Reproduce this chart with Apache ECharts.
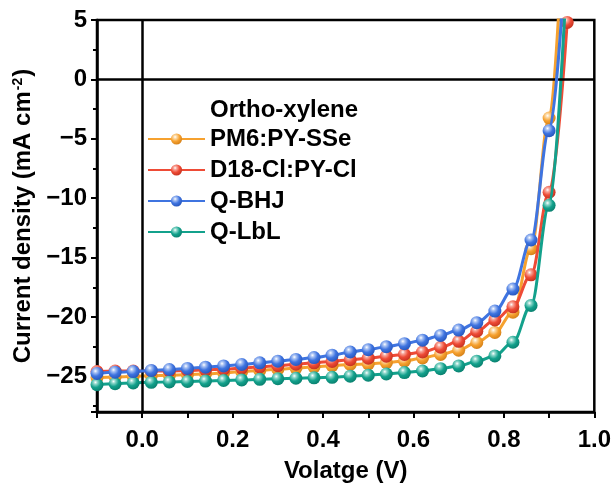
<!DOCTYPE html>
<html>
<head>
<meta charset="utf-8">
<script src="https://cdn.jsdelivr.net/npm/echarts@6/dist/echarts.min.js"></script>
<style>
  html, body { margin: 0; padding: 0; background: #fff; }
  #chart { width: 614px; height: 488px; }
</style>
</head>
<body>
<div id="chart"></div>
<script>
// J-V curves
const volt = [-0.10, -0.06, -0.02, 0.02, 0.06, 0.10, 0.14, 0.18, 0.22, 0.26, 0.30, 0.34, 0.38, 0.42,
  0.46, 0.50, 0.54, 0.58, 0.62, 0.66, 0.70, 0.74, 0.78, 0.82, 0.86, 0.90, 0.94]

const pm6 = [-25.1, -25.05, -25.0, -24.95, -24.9, -24.85, -24.8, -24.7, -24.6, -24.5, -24.4, -24.3, -24.2,
  -24.1, -24.0, -23.95, -23.85, -23.7, -23.45, -23.15, -22.8, -22.15, -21.3, -19.6, -14.25, -3.25, 20]
const d18 = [-24.6, -24.55, -24.55, -24.55, -24.55, -24.5, -24.45, -24.4, -24.3, -24.2, -24.1, -23.98, -23.86,
  -23.74, -23.6, -23.47, -23.3, -23.15, -22.95, -22.55, -22.05, -21.2, -20.25, -19.15, -16.45, -9.5, 4.8]
const qbhj = [-24.75, -24.65, -24.6, -24.5, -24.42, -24.33, -24.23, -24.12, -24.0, -23.86, -23.72, -23.57, -23.42,
  -23.22, -22.95, -22.75, -22.5, -22.25, -21.95, -21.55, -21.1, -20.48, -19.5, -17.65, -13.52, -4.32, 12.5]
const qlbl = [-25.7, -25.62, -25.55, -25.5, -25.47, -25.43, -25.4, -25.35, -25.3, -25.25, -25.2, -25.16, -25.12,
  -25.08, -24.98, -24.9, -24.8, -24.68, -24.55, -24.35, -24.12, -23.72, -23.28, -22.13, -19.03, -10.6, 9.5]

const names = ['PM6:PY-SSe', 'D18-Cl:PY-Cl', 'Q-BHJ', 'Q-LbL']
const colors = ['#f6a12f', '#ee4b36', '#3f74e0', '#13a18c']
const lights = ['#fcd9a4', '#f8a89c', '#a9c2f3', '#8fd8cc']
const darks = ['#c97510', '#b82a18', '#1f4cb0', '#067565']
const curves = [pm6, d18, qbhj, qlbl]
const zs = [2, 3, 5, 4]

const FONT = 'Liberation Sans, Arial, sans-serif'

const sphere = k => ({
  type: 'radial', x: 0.38, y: 0.32, r: 0.8,
  colorStops: [
    { offset: 0, color: '#ffffff' },
    { offset: 0.18, color: lights[k] },
    { offset: 0.5, color: colors[k] },
    { offset: 1, color: darks[k] }
  ]
})

const series = curves.map((ys, k) => ({
  name: names[k],
  type: 'line',
  data: volt.map((v, i) => [v, ys[i]]),
  smooth: 0.35,
  smoothMonotone: 'x',
  symbol: 'circle',
  symbolSize: 13,
  showSymbol: true,
  clip: true,
  z: zs[k],
  lineStyle: { color: colors[k], width: 3 },
  itemStyle: { color: sphere(k), borderWidth: 0 },
  emphasis: { disabled: true }
}))

// zero lines
series[2].markLine = {
  silent: true,
  symbol: 'none',
  label: { show: false },
  lineStyle: { color: '#000', width: 2.5, type: 'solid' },
  data: [{ yAxis: 0 }, { xAxis: 0 }]
}

const chart = echarts.init(document.getElementById('chart'))
chart.setOption({
  backgroundColor: '#fff',
  animation: false,
  title: {
    text: 'Ortho-xylene',
    left: 205, top: 93,
    textStyle: { fontFamily: FONT, fontWeight: 'bold', fontSize: 24, color: '#000' }
  },
  legend: {
    data: names,
    orient: 'vertical',
    left: 142, top: 122,
    itemWidth: 57, itemHeight: 14, itemGap: 7,
    textStyle: { fontFamily: FONT, fontWeight: 'bold', fontSize: 24, color: '#000', lineHeight: 24 }
  },
  grid: {
    left: 97, right: 19, top: 20, bottom: 68,
    show: true, borderColor: '#000', borderWidth: 2.5
  },
  xAxis: {
    type: 'value',
    min: -0.1, max: 1.0, interval: 0.1,
    name: 'Volatge (V)',
    nameLocation: 'middle', nameGap: 47,
    nameTextStyle: { fontFamily: FONT, fontWeight: 'bold', fontSize: 24, color: '#000' },
    axisLine: { onZero: false, lineStyle: { color: '#000', width: 2.5 } },
    axisTick: { inside: false, length: 6, lineStyle: { color: '#000', width: 2 } },
    axisLabel: {
      margin: 16,
      fontFamily: FONT, fontWeight: 'bold', fontSize: 24, color: '#000',
      formatter: v => {
        const t = Math.round(v * 10)
        return (t >= 0 && t % 2 === 0) ? (t / 10).toFixed(1) : ''
      }
    },
    splitLine: { show: false }
  },
  yAxis: {
    type: 'value',
    min: -28, max: 5,
    name: 'Current density (mA cm{sup|-2})',
    nameLocation: 'middle', nameGap: 60, nameRotate: 90,
    nameTextStyle: {
      fontFamily: FONT, fontWeight: 'bold', fontSize: 24, color: '#000',
      rich: {
        sup: { fontFamily: FONT, fontWeight: 'bold', fontSize: 14, color: '#000', verticalAlign: 'top', padding: [0, 1, 10, 1] }
      }
    },
    axisLine: { onZero: false, lineStyle: { color: '#000', width: 2.5 } },
    axisTick: { inside: false, length: 6, lineStyle: { color: '#000', width: 2 } },
    minorTick: { show: true, splitNumber: 2, length: 4, lineStyle: { color: '#000', width: 2 } },
    axisLabel: {
      margin: 10,
      fontFamily: FONT, fontWeight: 'bold', fontSize: 24, color: '#000',
      formatter: v => {
        if (Math.round(v) % 5 !== 0) return ''
        return v < 0 ? '\u2212' + Math.abs(v) : String(v)
      }
    },
    splitLine: { show: false },
    minorSplitLine: { show: false }
  },
  series
})
</script>
</body>
</html>
